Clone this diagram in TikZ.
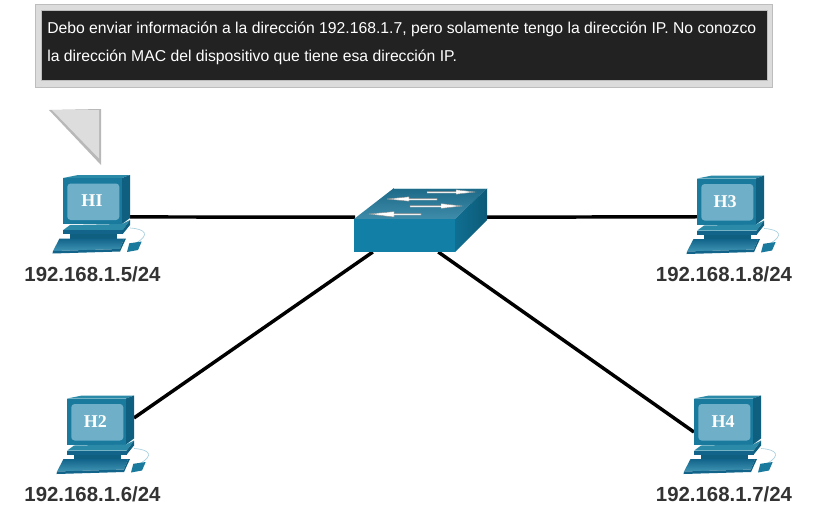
\documentclass[tikz,border=0pt]{standalone}
\usepackage{fontspec}
\setmainfont{Liberation Sans}
\newfontfamily\serifhost{Liberation Serif}
\definecolor{pcfront}{HTML}{1A7A9E}
\definecolor{pcscreen}{HTML}{6FB0C8}
\definecolor{pcside}{HTML}{0F5F80}
\definecolor{pctop}{HTML}{2B8AA8}
\definecolor{pcdark}{HTML}{12648A}
\definecolor{pclight}{HTML}{3E93B2}
\definecolor{swfront}{HTML}{117FA6}
\definecolor{swsideA}{HTML}{0F6F92}
\definecolor{swsideB}{HTML}{0D5A78}
\definecolor{swtopA}{HTML}{1C6A88}
\definecolor{swtopB}{HTML}{3F8CAA}
\definecolor{boxout}{HTML}{DCDCDC}
\definecolor{boxline}{HTML}{BDBDBD}
\definecolor{boxin}{HTML}{222222}
\definecolor{cursorfill}{HTML}{DDDDDD}
\definecolor{cursoredge}{HTML}{B8B8B8}
\definecolor{cablec}{HTML}{A8D0E0}
\definecolor{iptext}{HTML}{333333}
\tikzset{
  x=0.75pt,y=-0.75pt,
  link/.style={draw=black,line width=2.6pt},
  pcport/.style={rectangle,minimum width=50.25pt,minimum height=58.5pt,inner sep=0pt,outer sep=0pt},
  swport/.style={rectangle,minimum width=99pt,minimum height=48.75pt,inner sep=0pt,outer sep=0pt},
  iplabel/.style={font=\fontsize{15.3pt}{17pt}\selectfont\bfseries,text=iptext,inner sep=0pt},
  hostlabel/.style={font=\serifhost\fontsize{13.5pt}{15pt}\selectfont\bfseries,text=white,inner sep=0pt},
  swarrow/.style={fill=white,draw=black!45,line width=0.3pt},
  pics/pcicon/.style={code={
    % monitor
    \fill[pctop] (63,178) -- (78,175) -- (130,175) -- (122,178) -- cycle;
    \fill[pcside] (122,178) -- (130,175) -- (130,218) -- (122,224) -- cycle;
    \fill[pcfront] (63,178) rectangle (122,224);
    \fill[pcscreen,rounded corners=2.5pt] (67.3,183.5) rectangle (119.3,220);
    % stand
    \fill[pctop] (63.3,230) -- (70,225) -- (122,224) -- (130,220) -- (122.7,230) -- cycle;
    \fill[pcdark] (63.3,230) rectangle (122.7,234);
    \fill[pcside] (122.7,230) -- (130,220) -- (130,225) -- (122.7,234) -- cycle;
    \fill[pcside] (70,234) rectangle (117,238.5);
    % keyboard
    \shade[top color=pcdark,bottom color=pclight] (59.5,238.5) -- (124,238.5) -- (120,249) -- (53,251) -- cycle;
    \fill[pcdark] (53,251) -- (120,249) -- (120,251.5) -- (52.5,253.5) -- cycle;
    \fill[pcside] (124,238.5) -- (126,238.5) -- (120,251.5) -- (120,249) -- cycle;
    % cable
    \draw[cablec,line width=0.5pt] (130,228) .. controls (146,229) and (150,235) .. (136,243);
    % mouse
    \fill[pcfront] (129.3,243.3) -- (141.7,241.5) -- (138,250) -- (127,252) -- cycle;
  }}
}
\begin{document}
\begin{tikzpicture}
\useasboundingbox (0,0) rectangle (818,526);
\fill[white] (0,0) rectangle (818,526);
% message box
\fill[boxout,draw=boxline,line width=0.5pt] (35.5,4.5) rectangle (772.5,87);
\node[fill=boxin,draw=boxline,line width=0.5pt,minimum width=544.5pt,minimum height=52.5pt,inner sep=0pt,anchor=north west] (msg) at (41,10) {};
\node[anchor=north west,inner sep=0pt,text=white,align=left,font=\fontsize{11.8pt}{21pt}\selectfont] (msgtext) at (47,21.5)
  {Debo enviar información a la dirección 192.168.1.7, pero solamente tengo la dirección IP. No conozco\\la dirección MAC del dispositivo que tiene esa dirección IP.};
% cursor
\fill[cursoredge] (49,110) -- (101,109) -- (101,165) -- cycle;
\fill[cursorfill] (52,110) -- (99,110) -- (99,158.5) -- cycle;
% port placeholders
\node[pcport] (h1) at (96.5,214) {};
\node[pcport] (h2) at (100.5,435) {};
\node[pcport] (h3) at (730.5,215) {};
\node[pcport] (h4) at (727.5,435) {};
\node[swport] (sw) at (421,219.5) {};
% connectors
\draw[link] (h1.-5) -- (sw.178);
\draw[link] (sw.2) -- (h3.183);
\draw[link] (sw.214) -- (h2.27);
\draw[link] (sw.-62) -- (h4.175);
% switch
\shade[top color=swtopA,bottom color=swtopB] (354,219) -- (394,188) -- (487,188) -- (455,219) -- cycle;
\shade[left color=swsideA,right color=swsideB] (455,219) -- (487,188) -- (487,220) -- (455,252) -- cycle;
\fill[swfront] (354,219) rectangle (455,252);
\draw[white!70!swtopB,line width=0.4pt] (394,188) -- (487,188);
\fill[swarrow] (427,191.6) -- (456,191.6) -- (456,189.8) -- (475,192) -- (456,194.2) -- (456,193) -- (427,193) -- cycle;
\fill[swarrow] (437,198.6) -- (409,198.6) -- (409,196.8) -- (387,199) -- (409,201.2) -- (409,200) -- (437,200) -- cycle;
\fill[swarrow] (410,205.6) -- (441,205.6) -- (441,203.6) -- (462,206) -- (441,208.4) -- (441,207) -- (410,207) -- cycle;
\fill[swarrow] (421,213.6) -- (394,213.6) -- (394,211.6) -- (369,214) -- (394,217) -- (394,215) -- (421,215) -- cycle;
% computers
\pic at (0,0) {pcicon};
\pic at (4,220.5) {pcicon};
\pic at (634,0.5) {pcicon};
\pic at (631,220.5) {pcicon};
\node[hostlabel] (n1) at (92,201) {HI};
\node[hostlabel] (n2) at (95.3,421.5) {H2};
\node[hostlabel] (n3) at (725,202) {H3};
\node[hostlabel] (n4) at (723,422) {H4};
\node[iplabel] (ip1) at (92.5,274.5) {192.168.1.5/24};
\node[iplabel] (ip2) at (92.5,494.5) {192.168.1.6/24};
\node[iplabel] (ip3) at (724,274.5) {192.168.1.8/24};
\node[iplabel] (ip4) at (724,494.5) {192.168.1.7/24};
\end{tikzpicture}
\end{document}
